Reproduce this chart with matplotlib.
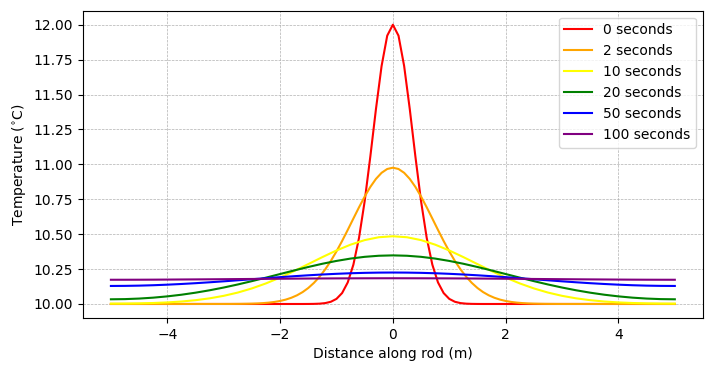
import matplotlib
matplotlib.use('Agg')
import matplotlib.pyplot as plt

# positions along the rod (m)
x_red = [-5.0, -1.6, -1.5, -1.4, -1.3, -1.2, -1.1, -1.0, -0.9, -0.8, -0.7, -0.6,
         -0.5, -0.4, -0.3, -0.2, -0.1, 0.0, 0.1, 0.2, 0.3, 0.4, 0.5, 0.6, 0.7,
         0.8, 0.9, 1.0, 1.1, 1.2, 1.3, 1.4, 1.5, 1.6, 5.0]
x_orange = [-5.0, -3.0, -2.9, -2.8, -2.7, -2.6, -2.5, -2.4, -2.3, -2.2, -2.1,
            -2.0, -1.9, -1.8, -1.7, -1.6, -1.5, -1.4, -1.3, -1.2, -1.1, -1.0,
            -0.9, -0.8, -0.7, -0.6, -0.5, -0.4, -0.3, -0.2, -0.1, 0.0, 0.1, 0.2,
            0.3, 0.4, 0.5, 0.6, 0.7, 0.8, 0.9, 1.0, 1.1, 1.2, 1.3, 1.4, 1.5,
            1.6, 1.7, 1.8, 1.9, 2.0, 2.1, 2.2, 2.3, 2.4, 2.5, 2.6, 2.7, 2.8,
            2.9, 3.0, 5.0]
x_all = [-5.0, -4.75, -4.5, -4.25, -4.0, -3.75, -3.5, -3.25, -3.0, -2.75, -2.5,
         -2.25, -2.0, -1.75, -1.5, -1.25, -1.0, -0.75, -0.5, -0.25, 0.0, 0.25,
         0.5, 0.75, 1.0, 1.25, 1.5, 1.75, 2.0, 2.25, 2.5, 2.75, 3.0, 3.25, 3.5,
         3.75, 4.0, 4.25, 4.5, 4.75, 5.0]

t0 = [10.0, 10.0, 10.0002, 10.0008, 10.0023, 10.0063, 10.0158, 10.0366, 10.0783,
      10.1546, 10.2817, 10.4739, 10.7358, 11.0546, 11.3954, 11.7043, 11.9216,
      12.0, 11.9216, 11.7043, 11.3954, 11.0546, 10.7358, 10.4739, 10.2817,
      10.1546, 10.0783, 10.0366, 10.0158, 10.0063, 10.0023, 10.0008, 10.0002,
      10.0, 10.0]

t2 = [10.0, 10.0002, 10.0003, 10.0006, 10.0009, 10.0016, 10.0025, 10.0040,
      10.0063, 10.0097, 10.0146, 10.0216, 10.0313, 10.0446, 10.0622, 10.0852,
      10.1145, 10.1510, 10.1952, 10.2477, 10.3083, 10.3766, 10.4513, 10.5306,
      10.6120, 10.6927, 10.7692, 10.8381, 10.8958, 10.9395, 10.9668, 10.9760,
      10.9668, 10.9395, 10.8958, 10.8381, 10.7692, 10.6927, 10.6120, 10.5306,
      10.4513, 10.3766, 10.3083, 10.2477, 10.1952, 10.1510, 10.1145, 10.0852,
      10.0622, 10.0446, 10.0313, 10.0216, 10.0146, 10.0097, 10.0063, 10.0040,
      10.0025, 10.0016, 10.0009, 10.0006, 10.0003, 10.0002, 10.0]

t10 = [10.0027, 10.0031, 10.0045, 10.0071, 10.0113, 10.0177, 10.0272, 10.0404,
       10.0584, 10.0818, 10.1115, 10.1474, 10.1893, 10.2360, 10.2857, 10.3358,
       10.3833, 10.4249, 10.4574, 10.4780, 10.4851, 10.4780, 10.4574, 10.4249,
       10.3833, 10.3358, 10.2857, 10.2360, 10.1893, 10.1474, 10.1115, 10.0818,
       10.0584, 10.0404, 10.0272, 10.0177, 10.0113, 10.0071, 10.0045, 10.0031,
       10.0027]

t20 = [10.0336, 10.0349, 10.0388, 10.0453, 10.0545, 10.0663, 10.0809, 10.0981,
       10.1178, 10.1398, 10.1636, 10.1887, 10.2145, 10.2402, 10.2650, 10.2881,
       10.3084, 10.3252, 10.3377, 10.3454, 10.3481, 10.3454, 10.3377, 10.3252,
       10.3084, 10.2881, 10.2650, 10.2402, 10.2145, 10.1887, 10.1636, 10.1398,
       10.1178, 10.0981, 10.0809, 10.0663, 10.0545, 10.0453, 10.0388, 10.0349,
       10.0336]

t50 = [10.1291, 10.1297, 10.1314, 10.1343, 10.1383, 10.1432, 10.1489, 10.1554,
       10.1623, 10.1697, 10.1772, 10.1847, 10.1921, 10.1990, 10.2055, 10.2112,
       10.2161, 10.2201, 10.2230, 10.2247, 10.2253, 10.2247, 10.2230, 10.2201,
       10.2161, 10.2112, 10.2055, 10.1990, 10.1921, 10.1847, 10.1772, 10.1697,
       10.1623, 10.1554, 10.1489, 10.1432, 10.1383, 10.1343, 10.1314, 10.1297,
       10.1291]

t100 = [10.1735, 10.1736, 10.1738, 10.1742, 10.1748, 10.1755, 10.1761, 10.1768,
        10.1776, 10.1784, 10.1792, 10.1800, 10.1808, 10.1815, 10.1822, 10.1828,
        10.1833, 10.1837, 10.1840, 10.1842, 10.1843, 10.1842, 10.1840, 10.1837,
        10.1833, 10.1828, 10.1822, 10.1815, 10.1808, 10.1800, 10.1792, 10.1784,
        10.1776, 10.1768, 10.1761, 10.1755, 10.1748, 10.1742, 10.1738, 10.1736,
        10.1735]

fig = plt.figure(figsize=(7.13, 3.71), dpi=100)
ax = fig.add_subplot(1, 1, 1)
fig.subplots_adjust(left=0.116, right=0.986, top=0.971, bottom=0.143)

ax.plot(x_red, t0, label='0 seconds', color='red')
ax.plot(x_orange, t2, label='2 seconds', color='orange')
ax.plot(x_all, t10, label='10 seconds', color='yellow')
ax.plot(x_all, t20, label='20 seconds', color='green')
ax.plot(x_all, t50, label='50 seconds', color='blue')
ax.plot(x_all, t100, label='100 seconds', color='purple')

ax.set_xlabel('Distance along rod (m)')
ax.set_ylabel('Temperature ($^{\\circ}$C)')
ax.grid(True, linestyle='--', linewidth=0.5, color='#b0b0b0')
ax.legend(loc=1)

fig.savefig('out.png', dpi=100)
